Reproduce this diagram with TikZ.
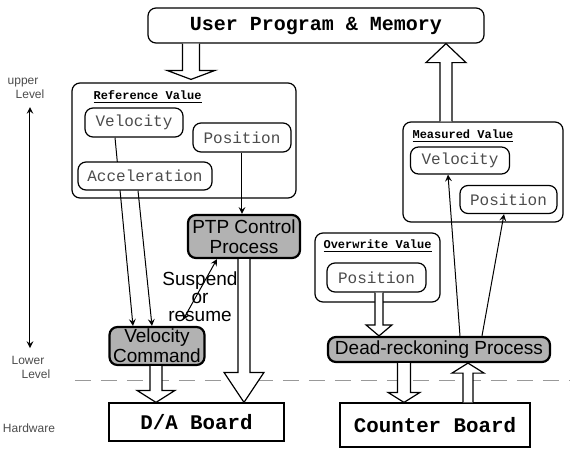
\documentclass[tikz,border=0pt]{standalone}
\usepackage{fontspec}
\setmainfont{Liberation Sans}
\setmonofont{Liberation Mono}
\usetikzlibrary{arrows, positioning, calc, backgrounds}

% hollow block arrow: start, tip, shaft half width, head half width, head length
\newcommand{\fatarrow}[5]{%
  \draw[fatline] let \p1=(#1), \p2=(#2), \n1={sign(\y2-\y1)} in
    ({\x1-#3},\y1) -- ({\x1-#3},{\y2-\n1*#5}) -- ({\x1-#4},{\y2-\n1*#5}) -- (\x1,\y2)
    -- ({\x1+#4},{\y2-\n1*#5}) -- ({\x1+#3},{\y2-\n1*#5}) -- ({\x1+#3},\y1);}

\begin{document}
\begin{tikzpicture}[x=0.5pt, y=-0.5pt, line width=0.6pt]
\tikzstyle{host} = [rectangle, rounded corners=4pt, draw=black, fill=white, inner sep=0pt, font=\ttfamily\bfseries\fontsize{10}{12}\selectfont]
\tikzstyle{board} = [rectangle, draw=black, fill=white, inner sep=0pt, font=\ttfamily\bfseries\fontsize{10.4}{12}\selectfont]
\tikzstyle{group} = [rectangle, rounded corners=4pt, draw=black]
\tikzstyle{grouptitle} = [anchor=west, inner sep=0pt, font=\ttfamily\bfseries\fontsize{6}{7}\selectfont]
\tikzstyle{value} = [rectangle, rounded corners=4pt, draw=black, fill=white, inner sep=0pt, text=black!70, font=\ttfamily\fontsize{8}{10}\selectfont]
\tikzstyle{process} = [rectangle, rounded corners=4pt, draw=black, line width=1.1pt, fill=black!30, inner sep=0pt, align=center, font=\fontsize{9.5}{10}\selectfont]
\tikzstyle{levelname} = [align=left, inner sep=0pt, text=black!70, font=\fontsize{6}{7}\selectfont]
\tikzstyle{fatline} = [draw=black, fill=white, line width=0.6pt, line join=miter]
\tikzstyle{arrow} = [line width=0.5pt, ->, >=stealth]

\useasboundingbox (0,0) rectangle (570,451);

\node[host] (user) at (316,25.5) [minimum width=168pt, minimum height=17.5pt] {User Program \& Memory};

\node[group] (refval) at (184,140.5) [minimum width=112pt, minimum height=57.5pt] {};
\node[grouptitle] (reftitle) at (93,97) {\underline{Reference Value}};
\node[value] (refvel) at (134,122.5) [minimum width=49pt, minimum height=14.5pt] {Velocity};
\node[value] (refpos) at (242,137.5) [minimum width=49pt, minimum height=14.5pt] {Position};
\node[value] (refacc) at (145,176) [minimum width=67pt, minimum height=14pt] {Acceleration};

\node[process] (ptp) at (244,236.5) [minimum width=56pt, minimum height=21.5pt] {PTP Control\\Process};
\node[process] (vcmd) at (157,346) [minimum width=47.5pt, minimum height=19pt] {Velocity\\Command};
\node[board] (da) at (196.5,422) [minimum width=87.5pt, minimum height=19pt] {D/A Board};

\node[group] (overwrite) at (377.5,267.5) [minimum width=62.5pt, minimum height=34.5pt] {};
\node[grouptitle] (owtitle) at (323,246) {\underline{Overwrite Value}};
\node[value] (owpos) at (376.5,277.5) [minimum width=49.5pt, minimum height=14.5pt] {Position};

\node[group] (measured) at (483,172) [minimum width=80pt, minimum height=50pt] {};
\node[grouptitle] (mtitle) at (412,136) {\underline{Measured Value}};
\node[value] (mvel) at (460,160.5) [minimum width=49.5pt, minimum height=13.5pt] {Velocity};
\node[value] (mpos) at (508.5,199.5) [minimum width=48.5pt, minimum height=14pt] {Position};

\node[process] (drp) at (439,349.5) [minimum width=111pt, minimum height=12.5pt] {Dead-reckoning Process};
\node[board] (counter) at (435,425) [minimum width=95pt, minimum height=22pt] {Counter Board};

\node[levelname] (upper) at (26,88.5) {upper\\\hspace{4pt}Level};
\node[levelname] (lower) at (31,367.5) {Lower\\\hspace{5pt}Level};
\node[levelname] (hw) at (29,428) {Hardware};
\node[align=center, inner sep=0pt, font=\fontsize{9.5}{9}\selectfont] (susp) at (200,297) {Suspend\\or\\resume};

\coordinate (uptip) at (30,107);
\coordinate (lowtip) at (30,348);
\draw[line width=0.5pt, <->, >=stealth] (uptip) -- (lowtip);

\draw[black!40, line width=0.4pt, dash pattern=on 8pt off 5pt] (75,380) -- (570,380);

\begin{scope}[on background layer]
\draw[arrow] ([xshift=-9.5pt]refvel.south) -- ([xshift=-12pt]vcmd.north);
\draw[arrow] ([xshift=-3.5pt]refacc.south) -- ([xshift=-2.5pt]vcmd.north);
\draw[arrow] (refpos.south) -- (refpos.south |- ptp.north);
\draw[arrow, <->] ([xshift=-13.5pt]ptp.south) -- ([xshift=13pt,yshift=3pt]vcmd.north);
\draw[arrow] ([xshift=10.5pt]drp.north) -- ([xshift=-6pt]mvel.south);
\draw[arrow] ([xshift=21.5pt]drp.north) -- ([xshift=-2.25pt]mpos.south);
\end{scope}

\fatarrow{[xshift=-62.5pt]user.south}{[yshift=1.5pt]refval.north}{4.25pt}{12pt}{4.5pt}
\fatarrow{[xshift=-18.5pt]measured.north}{user.south}{3pt}{10pt}{9.5pt}
\fatarrow{[xshift=-0.5pt]vcmd.south}{da.north}{3pt}{9.5pt}{6pt}
\fatarrow{ptp.south}{da.north}{3pt}{10pt}{15pt}
\fatarrow{[xshift=1.25pt]owpos.south}{drp.north}{2pt}{6.5pt}{5.5pt}
\fatarrow{[xshift=-17.5pt]drp.south}{counter.north}{3.25pt}{8pt}{5pt}
\fatarrow{[xshift=16.5pt]counter.north}{drp.south}{2.5pt}{8pt}{5pt}
\end{tikzpicture}
\end{document}
